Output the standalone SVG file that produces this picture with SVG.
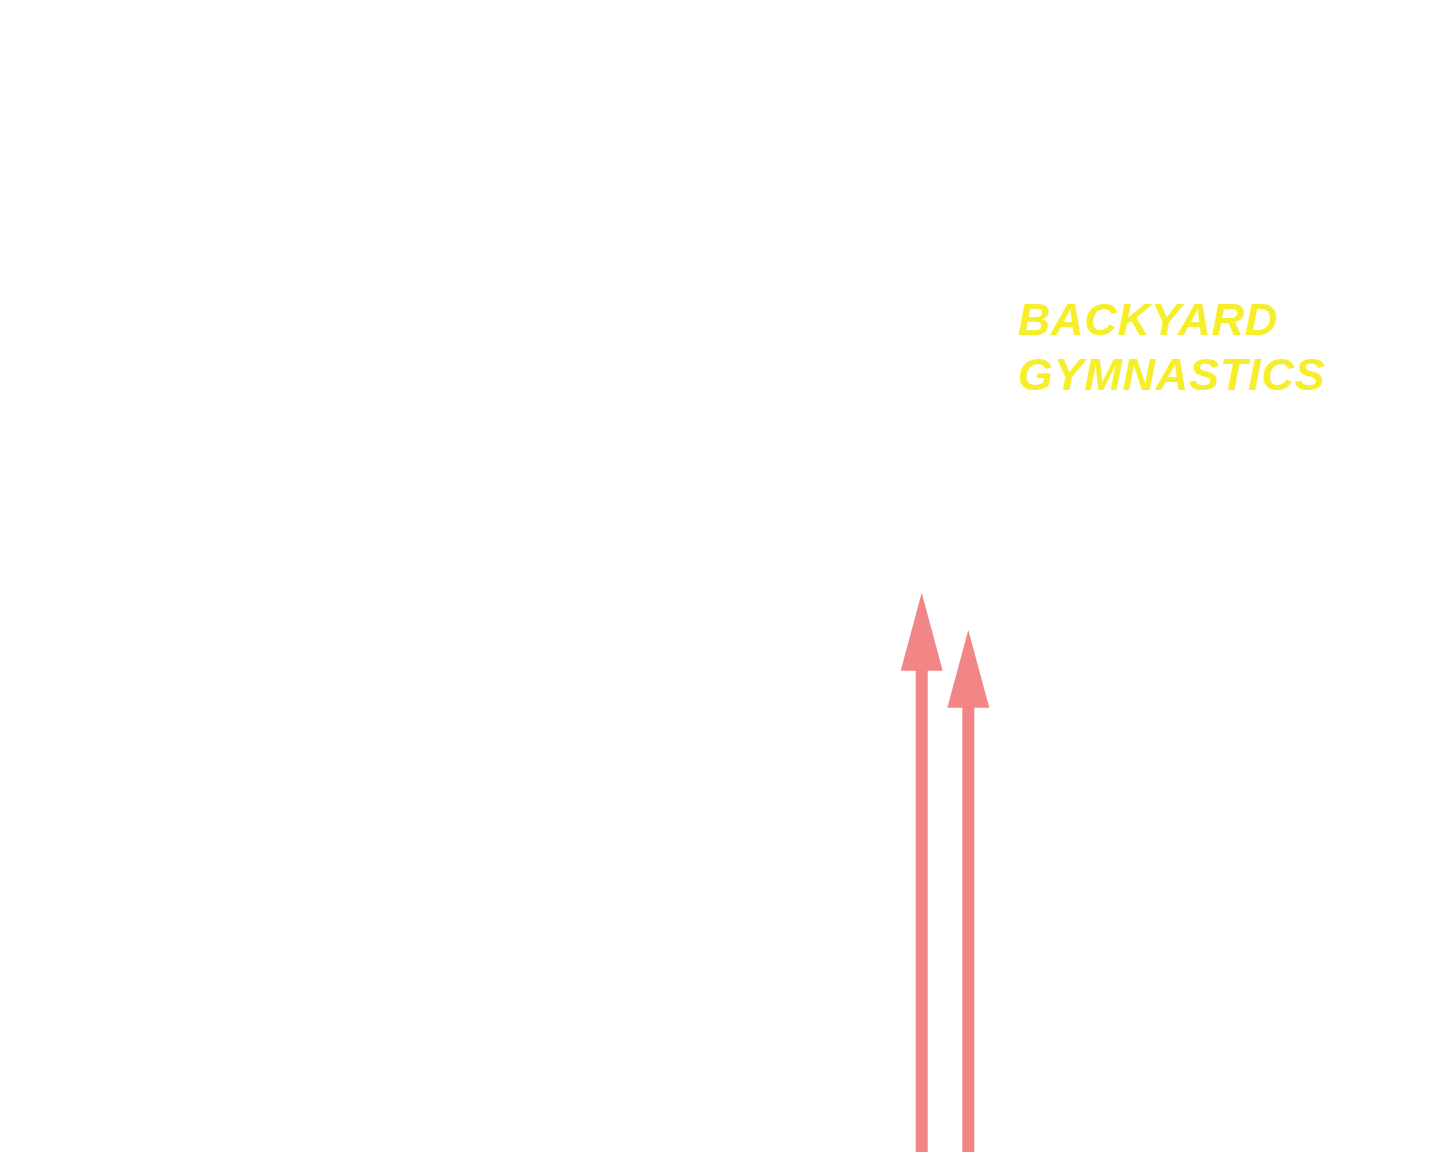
<svg xmlns="http://www.w3.org/2000/svg" width="1439" height="1152" viewBox="0 0 1439 1152">
<style>
.lbl{font-family:"Liberation Sans",Arial,sans-serif;font-weight:bold;font-style:italic;font-size:45px;letter-spacing:0.75px;fill:#F7EE2A}
.shaft{stroke:#F28585;stroke-width:12;fill:none}
.head{fill:#F28585}
</style>
<rect width="1439" height="1152" fill="#FFFFFF"/>
<g id="label">
<text class="lbl" x="1018" y="335">BACKYARD</text>
<text class="lbl" x="1018" y="390">GYMNASTICS</text>
</g>
<g id="connectors">
<line class="shaft" x1="921.7" y1="1152" x2="921.7" y2="668"/>
<polygon class="head" points="921.7,592.7 942.7,670.7 900.7,670.7"/>
<line class="shaft" x1="968.3" y1="1152" x2="968.3" y2="705"/>
<polygon class="head" points="968.3,630 989.3,707.7 947.3,707.7"/>
</g>
</svg>
